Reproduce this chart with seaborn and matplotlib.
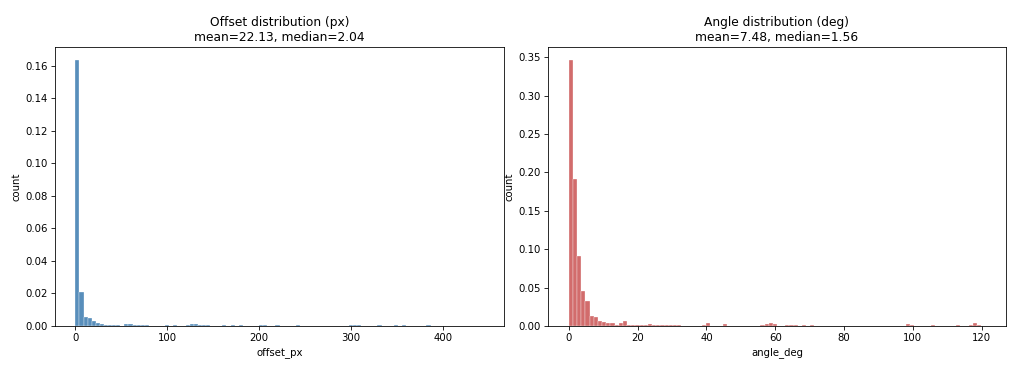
import numpy as np
import pandas as pd
import matplotlib
matplotlib.use("Agg")
import matplotlib.pyplot as plt
import seaborn as sns

# ---- data (histogram bin heights, density) ----
offset_max = 444.0
offset_heights = [
    0.1635, 0.0209, 0.0055, 0.0049, 0.0033, 0.0020, 0.0012, 0.0006, 0.0009, 0.0004,
    0.0007, 0.0003, 0.0010, 0.0010, 0.0006, 0.0006, 0.0005, 0.0005, 0.0003, 0.0003,
    0.0002, 0.0003, 0.0009, 0.0003, 0.0005, 0.0002, 0.0002, 0.0004, 0.0012, 0.0011,
    0.0004, 0.0006, 0.0004, 0.0002, 0.0000, 0.0003, 0.0004, 0.0003, 0.0004, 0.0002,
    0.0009, 0.0002, 0.0000, 0.0003, 0.0002, 0.0005, 0.0007, 0.0002, 0.0000, 0.0004,
    0.0000, 0.0000, 0.0002, 0.0000, 0.0004, 0.0000, 0.0000, 0.0002, 0.0003, 0.0003,
    0.0003, 0.0002, 0.0003, 0.0003, 0.0002, 0.0000, 0.0003, 0.0007, 0.0004, 0.0006,
    0.0002, 0.0000, 0.0002, 0.0000, 0.0004, 0.0002, 0.0000, 0.0002, 0.0004, 0.0003,
    0.0004, 0.0003, 0.0003, 0.0000, 0.0002, 0.0000, 0.0004, 0.0000, 0.0000, 0.0000,
    0.0002, 0.0000, 0.0000, 0.0000, 0.0000, 0.0000, 0.0000, 0.0000, 0.0000, 0.0003,
]

angle_max = 121.0
angle_heights = [
    0.346, 0.192, 0.091, 0.045, 0.032, 0.013, 0.012, 0.007, 0.0055, 0.0045,
    0.0040, 0.0008, 0.0045, 0.0070, 0.0015, 0.0010, 0.0012, 0.0008, 0.0010, 0.0020,
    0.0015, 0.0008, 0.0010, 0.0018, 0.0012, 0.0010, 0.0016, 0.0006, 0.0006, 0.0006,
    0.0006, 0.0006, 0.0008, 0.0035, 0.0004, 0.0000, 0.0004, 0.0030, 0.0004, 0.0000,
    0.0006, 0.0006, 0.0006, 0.0006, 0.0000, 0.0006, 0.0010, 0.0025, 0.0035, 0.0020,
    0.0006, 0.0000, 0.0010, 0.0010, 0.0008, 0.0006, 0.0010, 0.0004, 0.0010, 0.0006,
    0.0006, 0.0000, 0.0000, 0.0000, 0.0000, 0.0004, 0.0006, 0.0000, 0.0004, 0.0006,
    0.0006, 0.0006, 0.0000, 0.0004, 0.0000, 0.0006, 0.0004, 0.0000, 0.0000, 0.0000,
    0.0004, 0.0020, 0.0008, 0.0000, 0.0000, 0.0006, 0.0000, 0.0010, 0.0000, 0.0000,
    0.0000, 0.0000, 0.0006, 0.0012, 0.0006, 0.0000, 0.0008, 0.0035, 0.0010, 0.0004,
]

titles = ["Offset distribution (px)\nmean=22.13, median=2.04",
          "Angle distribution (deg)\nmean=7.48, median=1.56"]
xlabels = ["offset_px", "angle_deg"]
colors = ["steelblue", "indianred"]

W, H = 1024, 371
DPI = W / 14.0
fig = plt.figure(figsize=(14.0, H / DPI), dpi=DPI)
ax1 = fig.add_axes([55 / W, 1 - 326 / H, (504 - 55) / W, (326 - 47) / H])
ax2 = fig.add_axes([548 / W, 1 - 326 / H, (1006 - 548) / W, (326 - 47) / H])

for ax, hmax, heights, title, xl, c in [
    (ax1, offset_max, offset_heights, titles[0], xlabels[0], colors[0]),
    (ax2, angle_max, angle_heights, titles[1], xlabels[1], colors[1]),
]:
    n = len(heights)
    width = hmax / n
    df = pd.DataFrame({"x": [(i + 0.5) * width for i in range(n)], "w": heights})
    sns.histplot(data=df, x="x", weights="w", bins=n, binrange=(0, hmax),
                 color=c, ax=ax, alpha=0.9, edgecolor="white", linewidth=0.3)
    ax.set_title(title)
    ax.set_xlabel(xl)
    ax.set_ylabel("count")

fig.savefig("out.png", dpi=DPI)
